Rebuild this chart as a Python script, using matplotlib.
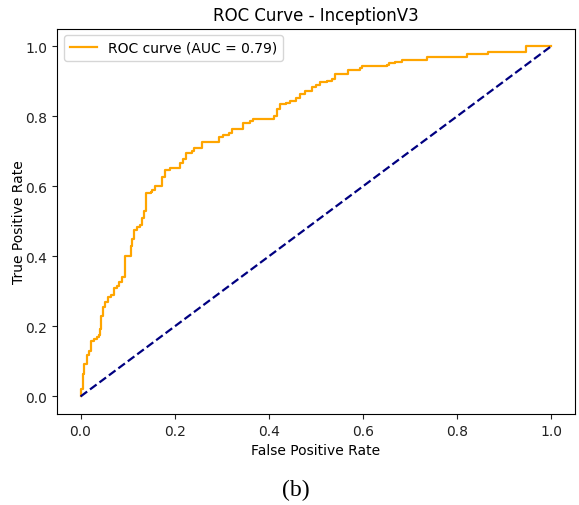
import matplotlib
matplotlib.use("Agg")
import matplotlib.pyplot as plt

# ROC step points (fpr at vertical segment, tpr at top of it)
fpr = [0.0, 0.0, 0.005, 0.007, 0.014, 0.018, 0.023, 0.029, 0.035, 0.039, 0.041,
       0.044, 0.047, 0.051, 0.058, 0.064, 0.071, 0.077, 0.082, 0.088, 0.095,
       0.107, 0.110, 0.113, 0.120, 0.126, 0.130, 0.135, 0.138, 0.140, 0.149,
       0.152, 0.158, 0.172, 0.179, 0.190, 0.211, 0.217, 0.223, 0.236, 0.240,
       0.257, 0.293, 0.303, 0.316, 0.321, 0.346, 0.360, 0.367, 0.410, 0.417,
       0.424, 0.437, 0.445, 0.458, 0.466, 0.477, 0.491, 0.500, 0.508, 0.524,
       0.533, 0.540, 0.569, 0.593, 0.597, 0.650, 0.656, 0.668, 0.682, 0.735,
       0.820, 0.866, 0.946, 1.0]
tpr = [0.0, 0.022, 0.065, 0.093, 0.119, 0.131, 0.157, 0.164, 0.170, 0.174, 0.193,
       0.231, 0.255, 0.269, 0.283, 0.290, 0.309, 0.316, 0.328, 0.340, 0.402,
       0.430, 0.450, 0.476, 0.485, 0.490, 0.510, 0.530, 0.545, 0.580, 0.584,
       0.590, 0.600, 0.625, 0.647, 0.651, 0.666, 0.677, 0.696, 0.700, 0.708,
       0.727, 0.739, 0.746, 0.753, 0.763, 0.779, 0.785, 0.793, 0.800, 0.820,
       0.834, 0.838, 0.843, 0.853, 0.862, 0.872, 0.883, 0.890, 0.897, 0.900,
       0.907, 0.919, 0.932, 0.936, 0.943, 0.947, 0.951, 0.954, 0.959, 0.970,
       0.976, 0.982, 1.0, 1.0]
auc_value = 0.79
chance = [0.0, 1.0]
x_ticks = [0.0, 0.2, 0.4, 0.6, 0.8, 1.0]
y_ticks = [0.0, 0.2, 0.4, 0.6, 0.8, 1.0]

W, H = 579, 506
fig = plt.figure(figsize=(W / 100, H / 100), dpi=100)
left, right, top, bottom = 57.0, 575.0, 29.5, 415.0
ax = fig.add_axes([left / W, 1 - bottom / H, (right - left) / W, (bottom - top) / H])

ax.plot(fpr, tpr, color='orange', lw=1.6, drawstyle='steps-post',
        label=f'ROC curve (AUC = {auc_value:.2f})')
ax.plot(chance, chance, color='navy', lw=1.6, linestyle='--')
ax.set_xlim(-0.05, 1.05)
ax.set_ylim(-0.05, 1.05)
ax.set_xticks(x_ticks)
ax.set_yticks(y_ticks)
ax.tick_params(labelsize=10, colors='#222222')
ax.set_xlabel('False Positive Rate', fontsize=10)
ax.set_ylabel('True Positive Rate', fontsize=10)
ax.yaxis.set_label_coords((26 - left) / (right - left), 0.5)
ax.set_title('ROC Curve - InceptionV3', fontsize=12)
ax.legend(loc='upper left', fontsize=10)

fig.text(296 / W, 1 - 490 / H, '(b)', family='Liberation Serif', fontsize=17,
         ha='center', va='center')

fig.savefig('out.png', dpi=100)
